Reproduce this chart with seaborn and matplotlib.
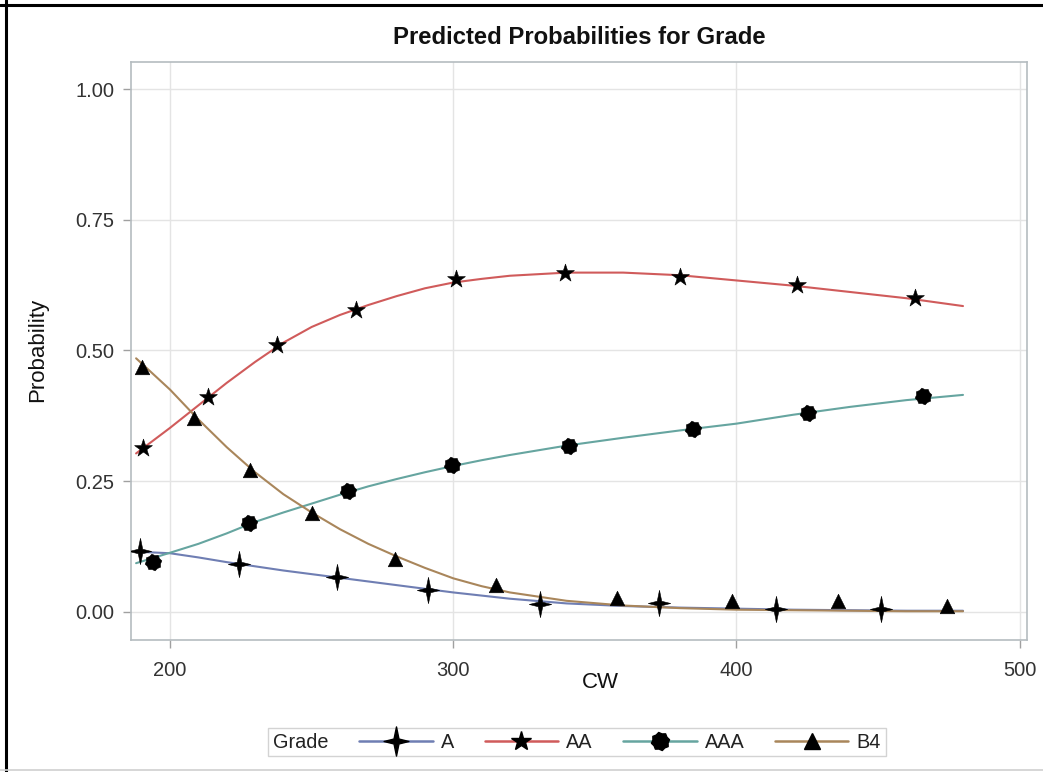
import numpy as np
import pandas as pd
import matplotlib
matplotlib.use("Agg")
import matplotlib.pyplot as plt
from matplotlib.path import Path
from matplotlib.lines import Line2D
import seaborn as sns

# ---------------- data ----------------
grades = ["A", "AA", "AAA", "B4"]

curve_cw = [188, 200, 210, 220, 230, 240, 250, 260, 270, 280, 290, 300, 310,
            320, 340, 360, 380, 400, 420, 440, 460, 480]
curve_A = [0.115, 0.112, 0.104, 0.095, 0.087, 0.079, 0.072, 0.065, 0.058, 0.051,
           0.044, 0.037, 0.031, 0.025, 0.016, 0.011, 0.008, 0.006, 0.004, 0.003,
           0.002, 0.002]
curve_AA = [0.303, 0.352, 0.395, 0.438, 0.478, 0.515, 0.545, 0.568, 0.587, 0.604,
            0.619, 0.630, 0.637, 0.643, 0.649, 0.649, 0.644, 0.634, 0.624, 0.612,
            0.600, 0.585]
curve_AAA = [0.093, 0.113, 0.130, 0.150, 0.172, 0.190, 0.207, 0.224, 0.240, 0.254,
             0.267, 0.279, 0.290, 0.300, 0.318, 0.333, 0.347, 0.360, 0.377, 0.392,
             0.405, 0.415]
curve_B4 = [0.485, 0.425, 0.368, 0.315, 0.267, 0.225, 0.190, 0.158, 0.130, 0.106,
            0.084, 0.064, 0.049, 0.037, 0.021, 0.012, 0.007, 0.004, 0.003, 0.002,
            0.001, 0.001]

pts_A_x = [189.5, 224.5, 259.0, 291.2, 330.6, 372.5, 414.0, 451.2]
pts_A_y = [0.116, 0.091, 0.067, 0.041, 0.015, 0.017, 0.005, 0.005]
pts_AA_x = [190.3, 213.3, 237.7, 265.7, 300.9, 339.6, 380.2, 421.5, 463.0]
pts_AA_y = [0.313, 0.411, 0.510, 0.578, 0.636, 0.649, 0.641, 0.626, 0.600]
pts_AAA_x = [193.9, 227.7, 262.9, 299.6, 341.0, 384.6, 425.4, 465.7]
pts_AAA_y = [0.096, 0.170, 0.232, 0.280, 0.317, 0.350, 0.381, 0.412]
pts_B4_x = [190.0, 208.6, 228.3, 250.2, 279.6, 315.2, 357.7, 398.6, 436.0, 474.3]
pts_B4_y = [0.469, 0.371, 0.271, 0.189, 0.101, 0.051, 0.026, 0.021, 0.020, 0.012]

x_ticks = [200, 300, 400, 500]
y_ticks = [0.00, 0.25, 0.50, 0.75, 1.00]
y_tick_labels = ["0.00", "0.25", "0.50", "0.75", "1.00"]

# ---------------- style ----------------
colors = {"A": "#6F7EB3", "AA": "#D05B5B", "AAA": "#66A5A0", "B4": "#A9865B"}

sns.set_theme(style="whitegrid")
plt.rcParams["font.family"] = ["Liberation Sans", "DejaVu Sans"]

# custom markers
star4 = Path([(0, 1), (0.17, 0.17), (0.85, 0), (0.17, -0.17), (0, -1),
              (-0.17, -0.17), (-0.85, 0), (-0.17, 0.17), (0, 1)],
             [Path.MOVETO] + [Path.LINETO] * 7 + [Path.CLOSEPOLY])
ang = np.linspace(0, 2 * np.pi, 17)[:-1] + np.pi / 16
rad = np.where(np.arange(16) % 2 == 0, 1.0, 0.84)
gear_v = list(zip(rad * np.cos(ang), rad * np.sin(ang))) + [(0, 0)]
gear = Path(gear_v, [Path.MOVETO] + [Path.LINETO] * 15 + [Path.CLOSEPOLY])

markers = {"A": star4, "AA": "*", "AAA": gear, "B4": "^"}
msizes = {"A": 19, "AA": 13.5, "AAA": 12, "B4": 10.5}

# ---------------- frame ----------------
W, H = 1043, 772
fig = plt.figure(figsize=(W / 100, H / 100), dpi=100)
ax = fig.add_axes([131 / W, 1 - 640 / H, (1027 - 131) / W, (640 - 62) / H])

# curves
curve_df = pd.concat([
    pd.DataFrame({"CW": curve_cw, "Probability": vals, "Grade": g})
    for g, vals in zip(grades, [curve_A, curve_AA, curve_AAA, curve_B4])
])
sns.lineplot(data=curve_df, x="CW", y="Probability", hue="Grade",
             palette=colors, linewidth=1.5, legend=False, ax=ax, zorder=3)

# markers
pts = {"A": (pts_A_x, pts_A_y), "AA": (pts_AA_x, pts_AA_y),
       "AAA": (pts_AAA_x, pts_AAA_y), "B4": (pts_B4_x, pts_B4_y)}
for g in grades:
    px, py = pts[g]
    sns.scatterplot(x=px, y=py, marker=markers[g], s=msizes[g] ** 2,
                    color="black", edgecolor="black", linewidth=0.4,
                    ax=ax, zorder=4, legend=False)

ax.set_xlim(186.2, 502.6)
ax.set_ylim(-0.054, 1.052)
ax.set_xticks(x_ticks)
ax.set_yticks(y_ticks)
ax.set_yticklabels(y_tick_labels)

ax.grid(True, color="#E4E4E4", linewidth=1.0)
for sp in ax.spines.values():
    sp.set_color("#B5BCC0")
    sp.set_linewidth(1.2)
ax.tick_params(axis="both", which="both", length=6, width=1.0, color="#A0A0A0",
               labelsize=14.5, labelcolor="#333333", pad=6, bottom=True, left=True)
ax.tick_params(axis="x", pad=9)

ax.set_xlabel("CW", fontsize=16, color="#111111")
ax.set_ylabel("Probability", fontsize=16, color="#111111")
ax.xaxis.set_label_coords((600 - 131) / 896, -0.056)
ax.yaxis.set_label_coords((48 - 131) / 896, 0.502)

fig.text(579 / W, 1 - 38 / H, "Predicted Probabilities for Grade",
         ha="center", va="center", fontsize=17.2, fontweight="bold", color="#111111")

# legend (title placed inline to the left of the entries)
handles = [Line2D([], [], color=colors[g], linewidth=1.8, marker=markers[g],
                  markerfacecolor="black", markeredgecolor="black",
                  markersize=(21 if g == "A" else msizes[g] + 1))
           for g in grades]
leg = fig.legend(handles, grades, title="Grade", ncol=4, loc="center",
                 bbox_to_anchor=(577 / W, 1 - 742 / H), fontsize=14.3,
                 title_fontsize=14.3, frameon=True, fancybox=False,
                 handlelength=3.7, handletextpad=0.4, columnspacing=0.2,
                 borderpad=0.25, borderaxespad=0.0)
leg.get_frame().set_edgecolor("#C8C8C8")
leg.get_frame().set_linewidth(1.0)
vbox = leg._legend_box
title_box, hbox = vbox.get_children()[0], vbox.get_children()[1]
vbox._children = [hbox]
hbox._children = [title_box] + hbox.get_children()
hbox.sep = 22
for t in leg.get_texts():
    t.set_color("#222222")
leg.get_title().set_color("#222222")

# outer border of the screenshot
fig.add_artist(Line2D([0.006, 0.006], [0, 1], transform=fig.transFigure,
                      color="black", linewidth=2.2))
fig.add_artist(Line2D([0, 1], [0.993, 0.993], transform=fig.transFigure,
                      color="black", linewidth=2.2))
fig.add_artist(Line2D([0, 1], [0.002, 0.002], transform=fig.transFigure,
                      color="#D0D0D0", linewidth=1.2))

fig.savefig("out.png", dpi=100)
